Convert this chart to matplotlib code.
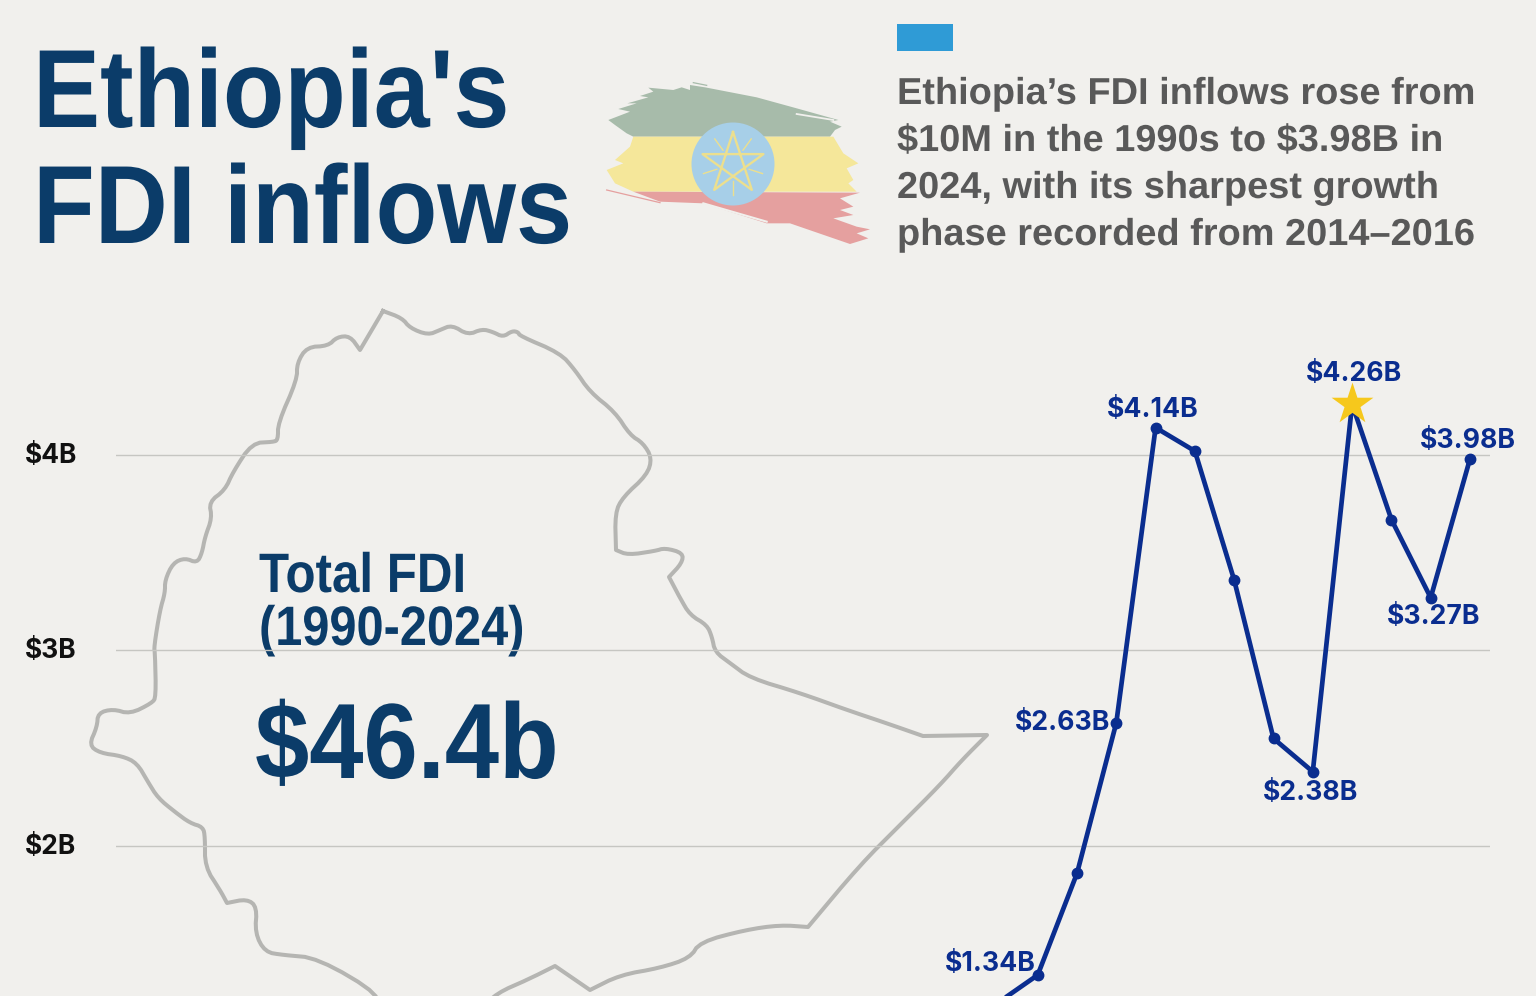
import numpy as np
import matplotlib
matplotlib.use("Agg")
import matplotlib.pyplot as plt
import matplotlib.patheffects as pe
from matplotlib.patches import Polygon, Circle, Rectangle
from matplotlib.transforms import Affine2D

# chart values
years = [2012, 2013, 2014, 2015, 2016, 2017, 2018, 2019, 2020, 2021, 2022, 2023, 2024]
fdi = [1.20, 1.34, 1.86, 2.63, 4.14, 4.02, 3.36, 2.55, 2.38, 4.26, 3.67, 3.27, 3.98]
tick_vals = [2, 3, 4]
tick_labels = ["$2B", "$3B", "$4B"]
peak_year = 2021

# year -> (label, dx px, dy px, ha)
labelled = {
    2013: ("$1.34B", -2, 11, "right"),
    2015: ("$2.63B", -6, 0, "right"),
    2016: ("$4.14B", -3, 18, "center"),
    2020: ("$2.38B", -2, -21, "center"),
    2021: ("$4.26B", 2, 30, "center"),
    2023: ("$3.27B", 3, -19, "center"),
    2024: ("$3.98B", -2, 18, "center"),
}

BG = "#f1f0ed"
NAVY = "#0b3c69"
BLUE = "#0a2d8f"
GRAY = "#595959"
GRID = "#c6c6c2"
OUTLINE = "#b5b5b2"

# country outline, traced by hand in picture pixels (repeated points stay sharp)
map_x = [383, 383, 402, 410, 428, 440, 452, 468, 482, 493, 503, 512, 518, 520, 560, 575, 590, 615, 630, 643, 652,
         647, 623, 615, 616, 616, 628, 655, 665, 683, 682, 669, 669, 680, 690, 707, 712, 715, 730, 750, 800, 847, 883,
         923, 923, 987, 987, 962, 940, 900, 860, 808, 808, 780, 745, 700, 690, 660, 620, 590, 590, 555, 555, 527, 497, 480, 370,
         382, 318, 283, 265, 255, 257, 247, 227, 227, 220, 205, 205, 203, 190, 175, 158, 148, 137, 122, 100,
         89, 97, 98, 113, 130, 152, 156, 155, 154, 160, 165, 165, 173, 185, 197, 202, 205, 212, 209, 225,
         233, 252, 273, 278, 278, 297, 297, 307, 328, 337, 350, 360, 360, 383, 383]
map_y = [311, 311, 318, 328, 335, 330, 325, 335, 329, 332, 337, 331, 332, 336, 353, 370, 392, 412, 435, 443, 458,
         475, 497, 513, 550, 550, 555, 551, 548, 553, 563, 577, 577, 598, 615, 625, 637, 652, 663, 678, 693, 710, 722,
         736, 736, 735, 735, 760, 785, 825, 865, 927, 927, 925, 930, 942, 958, 968, 975, 990, 990, 966, 966, 980, 993, 1010, 1010,
         996, 958, 955, 952, 933, 907, 899, 903, 903, 890, 867, 837, 827, 823, 812, 798, 782, 763, 756, 753,
         745, 727, 713, 709, 714, 703, 697, 653, 647, 610, 593, 580, 563, 558, 563, 553, 537, 518, 502, 490,
         472, 443, 442, 440, 423, 380, 363, 347, 346, 337, 336, 350, 350, 311, 311]

# brushed flag bands, in flag-crop units (3 units a pixel)
flag_green = [(55, 330), (120, 305), (85, 297), (140, 280), (112, 280), (175, 262), (150, 258), (190, 245), (175, 233),
              (250, 240), (275, 232), (300, 240), (300, 225), (345, 232), (500, 262), (620, 295), (745, 330), (720, 335),
              (755, 350), (735, 360), (720, 380), (130, 380), (110, 370), (75, 345)]
flag_yellow = [(130, 380), (730, 380), (760, 430), (805, 460), (770, 475), (790, 510), (775, 520), (800, 545), (130, 545),
               (75, 520), (50, 480), (100, 460), (75, 450), (120, 410)]
flag_red = [(130, 545), (810, 548), (750, 565), (790, 590), (750, 600), (790, 615), (730, 625), (800, 650), (840, 658),
            (800, 670), (835, 685), (780, 702), (600, 640), (530, 640), (340, 580), (210, 575)]
flag_streaks = [((620, 312), (730, 330), BG, 1.3), ((340, 580), (530, 635), BG, 1.5),
                ((50, 540), (210, 578), "#e5a09f", 0.9), ((310, 218), (350, 226), "#a7bbaa", 0.9)]


def to_px(pts):
    return [(590 + x / 3, 10 + y / 3) for x, y in pts]


def chaikin(xs, ys, rounds=2):
    # corner cutting so the hand traced outline is not so angular
    pts = np.column_stack([xs, ys]).astype(float)
    for _ in range(rounds):
        a, b = pts[:-1], pts[1:]
        q, r = 0.75 * a + 0.25 * b, 0.25 * a + 0.75 * b
        pts = np.empty((2 * len(a), 2))
        pts[0::2], pts[1::2] = q, r
    return pts[:, 0], pts[:, 1]


class SqueezeX(pe.AbstractPathEffect):
    # stands in for the letter spacing of the original text
    def __init__(self, sx, x0):
        super().__init__()
        self.sx, self.x0 = sx, x0

    def draw_path(self, renderer, gc, tpath, affine, rgbFace=None):
        squeeze = Affine2D().translate(-self.x0, 0).scale(self.sx, 1).translate(self.x0, 0)
        renderer.draw_path(gc, tpath, affine + squeeze, rgbFace)


fig = plt.figure(figsize=(15.36, 9.96), dpi=100, facecolor=BG)

# backdrop axes in picture pixels
bg = fig.add_axes([0, 0, 1, 1], zorder=1)
bg.set_xlim(0, 1536)
bg.set_ylim(996, 0)
bg.axis("off")

# chart axes, x from 2024 at px 1470 with 39.3 px a year, y from 195.5 px per $1B
left, right = 116, 1490
ax = fig.add_axes([left / 1536, 0, (right - left) / 1536, 1], zorder=2)
ax.patch.set_alpha(0)
ax.set_xlim(2024 - (1470 - left) / 39.3, 2024 + (right - 1470) / 39.3)
ax.set_ylim(4 - (996 - 455) / 195.5, 4 + 455 / 195.5)
for s in ax.spines.values():
    s.set_visible(False)
ax.xaxis.set_visible(False)
ax.set_yticks(tick_vals)
ax.set_yticklabels(tick_labels, fontfamily="Inter", fontweight="bold", fontsize=19, color="#111111", ha="center")
ax.tick_params(axis="y", length=0, pad=47)
for t in ax.get_yticklabels():
    t.set_parse_math(False)
    t.set_transform(t.get_transform() + Affine2D().translate(0, 2))
ax.grid(axis="y", color=GRID, linewidth=1.0)
ax.set_axisbelow(True)

ax.plot(years, fdi, color=BLUE, linewidth=3.4, marker="o", markersize=7.5, zorder=3, solid_capstyle="round")
ax.scatter([peak_year], [fdi[years.index(peak_year)]], marker="*", s=1000, color="#f6c81c", linewidths=0, zorder=4)

for yr, (txt, dx, dy, ha) in labelled.items():
    ax.annotate(txt, (yr, fdi[years.index(yr)]), xytext=(dx * 0.72, dy * 0.72), textcoords="offset points",
                ha=ha, va="center", fontsize=19.2, color=BLUE, fontfamily="Inter", fontweight="bold",
                annotation_clip=False, zorder=5, parse_math=False)

# map
mx, my = chaikin(map_x, map_y)
bg.plot(mx, my, color=OUTLINE, linewidth=2.9, solid_joinstyle="round", zorder=2)

# flag
bg.add_patch(Polygon(to_px(flag_green), closed=True, fc="#a7bbaa", ec="none", zorder=3))
bg.add_patch(Polygon(to_px(flag_yellow), closed=True, fc="#f5e79a", ec="none", zorder=3))
bg.add_patch(Polygon(to_px(flag_red), closed=True, fc="#e5a09f", ec="none", zorder=3))
for p0, p1, col, lw in flag_streaks:
    (x0, y0), (x1, y1) = to_px([p0, p1])
    bg.plot([x0, x1], [y0, y1], color=col, linewidth=lw, zorder=3.5)
bg.add_patch(Circle((733, 164), 41.5, fc="#a7cfe8", ec="none", zorder=4))
cx, cy, r = 733, 164, 32
ang = np.deg2rad(-90 + 72 * np.arange(5))
tips_x, tips_y = cx + r * np.cos(ang), cy + r * np.sin(ang)
order = [0, 2, 4, 1, 3, 0]
bg.plot(tips_x[order], tips_y[order], color="#ecdf8e", linewidth=1.7, zorder=5)
for a in ang + np.deg2rad(36):
    bg.plot([cx + 17 * np.cos(a), cx + 31 * np.cos(a)], [cy + 17 * np.sin(a), cy + 31 * np.sin(a)],
            color="#ecdf8e", linewidth=1.0, zorder=5)

# accent block
bg.add_patch(Rectangle((897, 24), 56, 27, fc="#2f9bd6", ec="none", zorder=3))

# headline
head = dict(family="Liberation Sans", fontweight="bold", color=NAVY, va="baseline", ha="left", zorder=6,
            parse_math=False)
bg.text(33, 127, "Ethiopia's", fontsize=80, path_effects=[SqueezeX(0.905, 33)], **head)
bg.text(33, 243, "FDI inflows", fontsize=80, path_effects=[SqueezeX(0.91, 33)], **head)

# description
desc = ["Ethiopia\u2019s FDI inflows rose from", "$10M in the 1990s to $3.98B in",
        "2024, with its sharpest growth", "phase recorded from 2014\u20132016"]
for i, line in enumerate(desc):
    bg.text(897, 104 + 47 * i, line, family="Liberation Sans", fontweight="bold", fontsize=27,
            color=GRAY, va="baseline", ha="left", zorder=6, parse_math=False,
            path_effects=[SqueezeX(1.012, 897)])

# total
bg.text(259, 592, "Total FDI", fontsize=40, path_effects=[SqueezeX(0.887, 259)], **head)
bg.text(259, 645, "(1990-2024)", fontsize=40, path_effects=[SqueezeX(0.877, 259)], **head)
bg.text(255, 778, "$46.4b", fontsize=77, path_effects=[SqueezeX(0.912, 255)], **head)

fig.savefig("out.png", dpi=100, facecolor=BG)
